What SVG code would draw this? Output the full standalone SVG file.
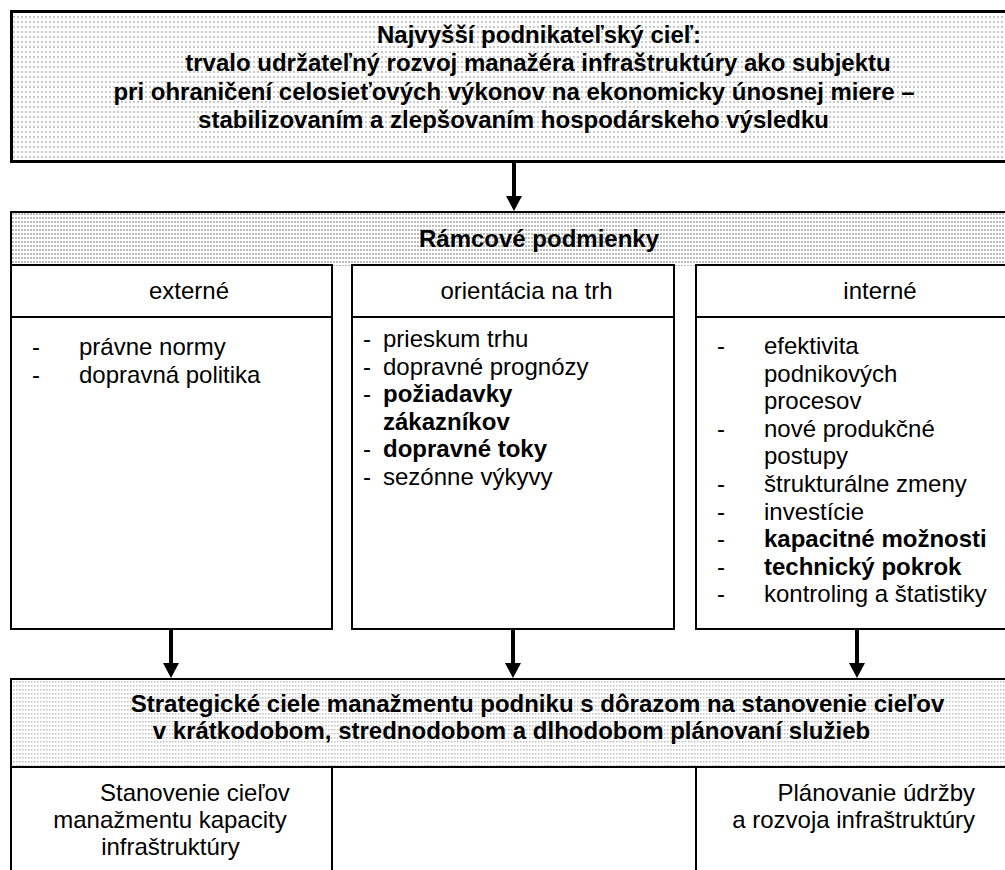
<svg xmlns="http://www.w3.org/2000/svg" width="1005" height="870" viewBox="0 0 1005 870">
  <defs>
    <!-- sparse dot screen for the goal box -->
    <pattern id="dotsLight" width="4" height="5" patternUnits="userSpaceOnUse">
      <rect width="4" height="5" fill="#ffffff"/>
      <rect x="1" y="1" width="2" height="2" fill="#cacaca"/>
    </pattern>
    <!-- dense dot screen for the frame header -->
    <pattern id="dotsDense" width="3" height="4" patternUnits="userSpaceOnUse">
      <rect width="3" height="4" fill="#ffffff"/>
      <rect x="0" y="1" width="2" height="2" fill="#bcbcbc"/>
    </pattern>
    <!-- fine dot screen for the strategy header -->
    <pattern id="dotsFine" width="3" height="4" patternUnits="userSpaceOnUse">
      <rect width="3" height="4" fill="#ffffff"/>
      <rect x="1" y="1" width="1.5" height="1.5" fill="#c0c0c0"/>
    </pattern>
    <marker id="ah" markerUnits="userSpaceOnUse" markerWidth="16" markerHeight="16" refX="0" refY="8" orient="auto" viewBox="0 0 15 16">
      <path d="M0,0 L15,8 L0,16 z" fill="#000"/>
    </marker>
    <style>
      text { font-family: "Liberation Sans", Arial, sans-serif; font-size: 24px; fill: #000; }
      .b { font-weight: bold; }
      .c { text-anchor: middle; }
      .e { text-anchor: end; }
      .frame { stroke: #000; stroke-width: 2; fill: none; }
      .cell { stroke: #000; stroke-width: 2; fill: #fff; }
      .band { stroke: #000; stroke-width: 2; fill: url(#dotsFine); }
      .conn { stroke: #000; stroke-width: 4; fill: none; marker-end: url(#ah); }
    </style>
  </defs>

  <!-- top-level business goal -->
  <g id="goal">
    <rect x="11.5" y="11.5" width="1100" height="150" fill="url(#dotsLight)" stroke="#000" stroke-width="3"/>
    <text class="b c" x="539" y="43">Najvyšší podnikateľský cieľ:</text>
    <text class="b c" x="538" y="71">trvalo udržateľný rozvoj manažéra infraštruktúry ako subjektu</text>
    <text class="b c" x="514" y="99.5">pri ohraničení celosieťových výkonov na ekonomicky únosnej miere –</text>
    <text class="b c" x="513.5" y="128">stabilizovaním a zlepšovaním hospodárskeho výsledku</text>
  </g>

  <!-- framework conditions header -->
  <g id="framework">
    <rect x="11" y="212" width="1100" height="54" fill="url(#dotsDense)"/>
    <path class="frame" d="M11,266 V212 H1111 V266"/>
    <text class="b c" x="539" y="247">Rámcové podmienky</text>
  </g>

  <g id="external">
    <rect class="cell" x="11" y="265" width="321" height="364"/>
    <line class="frame" x1="11" y1="317" x2="332" y2="317"/>
    <text class="c" x="189" y="299">externé</text>
    <text x="32" y="355">-</text><text x="79" y="355">právne normy</text>
    <text x="32" y="382.5">-</text><text x="79" y="382.5">dopravná politika</text>
  </g>

  <g id="market">
    <rect class="cell" x="352" y="265" width="322" height="364"/>
    <line class="frame" x1="352" y1="317" x2="674" y2="317"/>
    <text class="c" x="526.5" y="299">orientácia na trh</text>
    <text x="363" y="347">-</text><text x="383" y="347">prieskum trhu</text>
    <text x="363" y="374.5">-</text><text x="383" y="374.5">dopravné prognózy</text>
    <text x="363" y="402">-</text><text class="b" x="383" y="402">požiadavky</text>
    <text class="b" x="383" y="429.5">zákazníkov</text>
    <text x="363" y="457">-</text><text class="b" x="383" y="457">dopravné toky</text>
    <text x="363" y="484.5">-</text><text x="383" y="484.5">sezónne výkyvy</text>
  </g>

  <g id="internal">
    <rect class="cell" x="696" y="265" width="420" height="364"/>
    <line class="frame" x1="696" y1="317" x2="1116" y2="317"/>
    <text class="c" x="880" y="299">interné</text>
    <text x="717" y="354">-</text><text x="764" y="354">efektivita</text>
    <text x="764" y="381.6">podnikových</text>
    <text x="764" y="409.2">procesov</text>
    <text x="717" y="436.8">-</text><text x="764" y="436.8">nové produkčné</text>
    <text x="764" y="464.4">postupy</text>
    <text x="717" y="492">-</text><text x="764" y="492">štrukturálne zmeny</text>
    <text x="717" y="519.6">-</text><text x="764" y="519.6">investície</text>
    <text x="717" y="547.2">-</text><text class="b" x="764" y="547.2">kapacitné možnosti</text>
    <text x="717" y="574.8">-</text><text class="b" x="764" y="574.8">technický pokrok</text>
    <text x="717" y="602.4">-</text><text x="764" y="602.4">kontroling a štatistiky</text>
  </g>

  <!-- strategic goals header and its cells -->
  <g id="strategy">
    <rect class="band" x="11" y="679" width="1100" height="88"/>
    <text class="b c" x="537.5" y="712">Strategické ciele manažmentu podniku s dôrazom na stanovenie cieľov</text>
    <text class="b c" x="511.5" y="739">v krátkodobom, strednodobom a dlhodobom plánovaní služieb</text>
  </g>

  <g id="capacity">
    <path class="frame" d="M11,767 V880 M332,767 V880"/>
    <text x="100" y="801">Stanovenie cieľov</text>
    <text class="c" x="170" y="828">manažmentu kapacity</text>
    <text class="c" x="170.5" y="855">infraštruktúry</text>
  </g>

  <g id="middle-cell">
    <path class="frame" d="M696,767 V880"/>
  </g>

  <g id="maintenance">
    <text class="e" x="975" y="801">Plánovanie údržby</text>
    <text class="e" x="975" y="828">a rozvoja infraštruktúry</text>
  </g>

  <!-- connectors -->
  <g id="connectors">
    <line class="conn" x1="514" y1="163" x2="514" y2="196"/>
    <line class="conn" x1="171" y1="630" x2="171" y2="663"/>
    <line class="conn" x1="513" y1="630" x2="513" y2="663"/>
    <line class="conn" x1="857" y1="630" x2="857" y2="663"/>
  </g>
</svg>
